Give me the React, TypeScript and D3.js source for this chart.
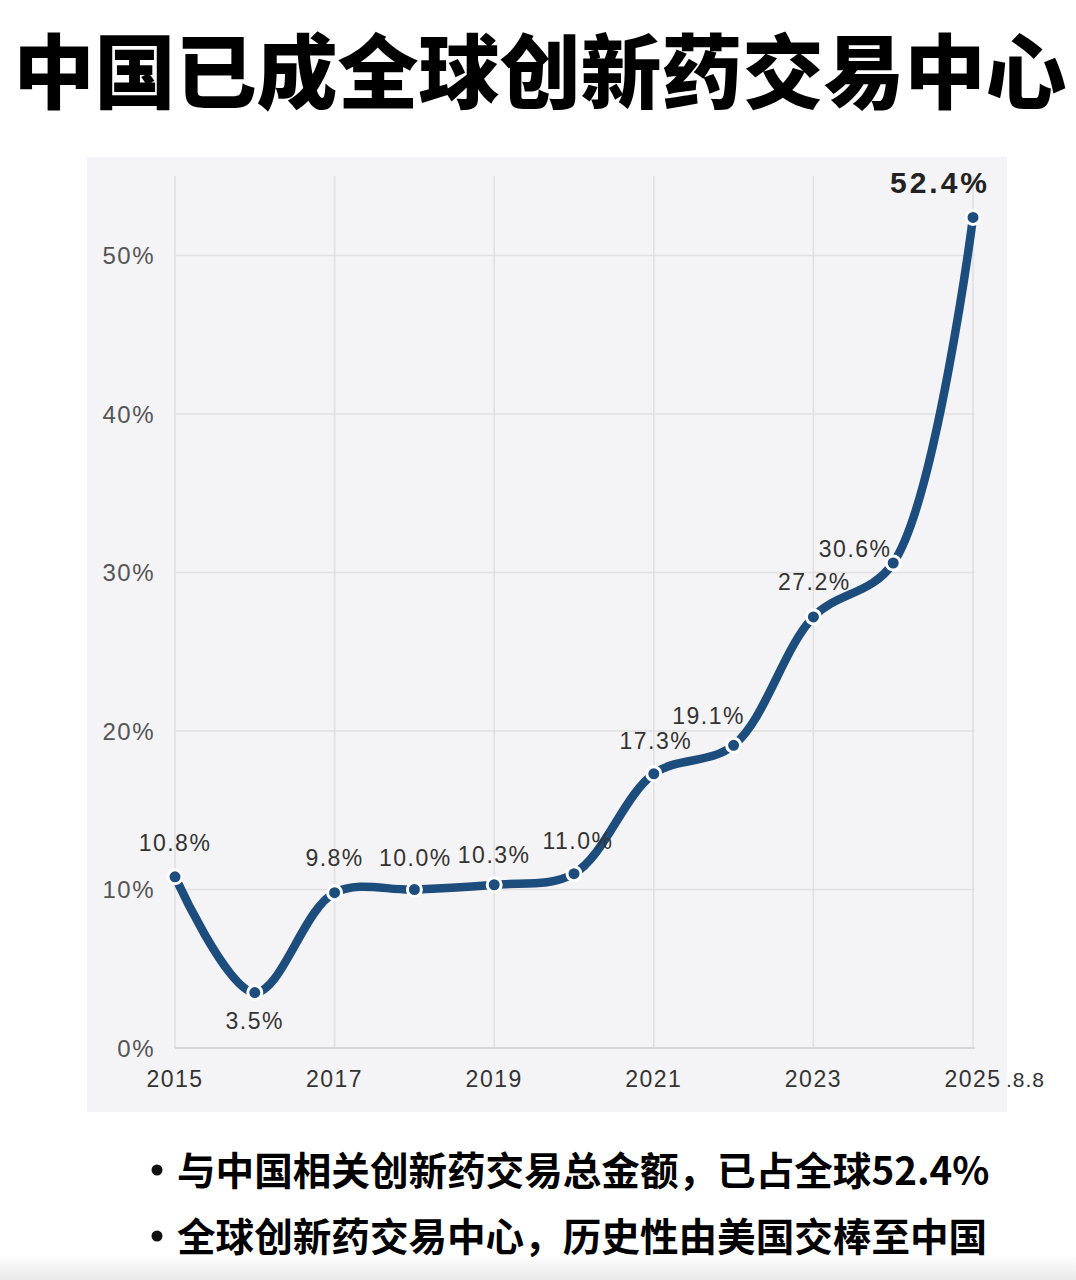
import React from "react";
import * as d3 from "d3";

const years = [2015, 2016, 2017, 2018, 2019, 2020, 2021, 2022, 2023, 2024, 2025];
const shares = [10.8, 3.5, 9.8, 10.0, 10.3, 11.0, 17.3, 19.1, 27.2, 30.6, 52.4];
const valueLabels = ["10.8%", "3.5%", "9.8%", "10.0%", "10.3%", "11.0%", "17.3%", "19.1%", "27.2%", "30.6%", "52.4%"];
const yTicks = [0, 10, 20, 30, 40, 50];
const xTicks = [2015, 2017, 2019, 2021, 2023, 2025];
const title = "中国已成全球创新药交易中心";
const bullets = ["与中国相关创新药交易总金额，已占全球52.4%", "全球创新药交易中心，历史性由美国交棒至中国"];
const lastTickSuffix = ".8.8";

// label offsets (styling), relative to each point
const labelOffsets: [number, number][] = [
  [0, -34], [0, 28], [0, -35], [1, -32], [0, -30], [4, -33],
  [2, -33], [-25, -29], [1, -35], [-38, -14], [-33, -35],
];

export default function App() {
  const W = 1076, H = 1280;
  const x = d3.scaleLinear().domain([2015, 2025]).range([175, 973]);
  const y = d3.scaleLinear().domain([0, 50]).range([1048, 255.5]);
  const pts = years.map((yr, i) => [x(yr), y(shares[i])] as [number, number]);
  const line = d3.line().curve(d3.curveCatmullRom.alpha(0.5))(pts) || "";
  const blue = "#1c4d7c";
  const numFont = "'Liberation Sans', Arial, sans-serif";
  const cjk = "'Noto Sans CJK SC', sans-serif";

  return (
    <div style={{ position: "absolute", left: 0, top: 0, width: W, height: H }}>
      <svg width={W} height={H} viewBox={`0 0 ${W} ${H}`} style={{ display: "block" }}>
        <rect x={0} y={0} width={W} height={H} fill="#ffffff" />
        <defs>
          <linearGradient id="btm" x1="0" y1="0" x2="0" y2="1">
            <stop offset="0" stopColor="#ffffff" />
            <stop offset="1" stopColor="#e9e9e9" />
          </linearGradient>
        </defs>
        <rect x={0} y={1255} width={W} height={25} fill="url(#btm)" />
        <text x={540} y={66} textAnchor="middle" dominantBaseline="central"
          fontFamily={cjk} fontWeight={900} fontSize={81} fill="#000">{title}</text>

        <rect x={87} y={157} width={920} height={955} fill="#f4f3f5" />

        {yTicks.map((t) => (
          <g key={"y" + t}>
            {t > 0 && <line x1={x(2015)} x2={975} y1={y(t)} y2={y(t)} stroke="#e1e0e3" strokeWidth={1.5} />}
            <text x={155} y={y(t)} textAnchor="end" dominantBaseline="central"
              fontFamily={numFont} fontSize={24} letterSpacing={1.5} fill="#555">{t + "%"}</text>
          </g>
        ))}
        {xTicks.map((t) => (
          <g key={"x" + t}>
            <line x1={x(t)} x2={x(t)} y1={176} y2={y(0)} stroke="#dfdee1" strokeWidth={1.5} />
            <text x={x(t)} y={1079} textAnchor="middle" dominantBaseline="central"
              fontFamily={numFont} fontSize={23} letterSpacing={1.5} fill="#333">{String(t)}</text>
          </g>
        ))}
        <line x1={x(2015)} x2={975} y1={y(0)} y2={y(0)} stroke="#d6d5d8" strokeWidth={2} />
        <text x={x(2025) + 33} y={1079} textAnchor="start" dominantBaseline="central"
          fontFamily={numFont} fontSize={21} letterSpacing={1} fill="#333">{lastTickSuffix}</text>

        <path d={line} fill="none" stroke={blue} strokeWidth={8.5} strokeLinecap="round" />
        {pts.map(([px, py], i) => (
          <circle key={"c" + i} cx={px} cy={py} r={7} fill={blue} stroke="#ffffff" strokeWidth={3} />
        ))}
        {pts.map(([px, py], i) => {
          const last = i === pts.length - 1;
          return (
            <text key={"l" + i} x={px + labelOffsets[i][0]} y={py + labelOffsets[i][1]}
              textAnchor="middle" dominantBaseline="central" fontFamily={numFont}
              fontSize={last ? 30 : 23} letterSpacing={last ? 3 : 1.5}
              fontWeight={last ? 700 : 400} fill={last ? "#222" : "#333"}>
              {valueLabels[i]}
            </text>
          );
        })}

        {bullets.map((b, i) => (
          <g key={"b" + i}>
            <circle cx={157} cy={1170 + i * 66} r={5.5} fill="#111" />
            <text x={177} y={1168 + i * 66} textAnchor="start" dominantBaseline="central"
              fontFamily={cjk} fontWeight={700} fontSize={38.6} fill="#000">{b}</text>
          </g>
        ))}
      </svg>
    </div>
  );
}
